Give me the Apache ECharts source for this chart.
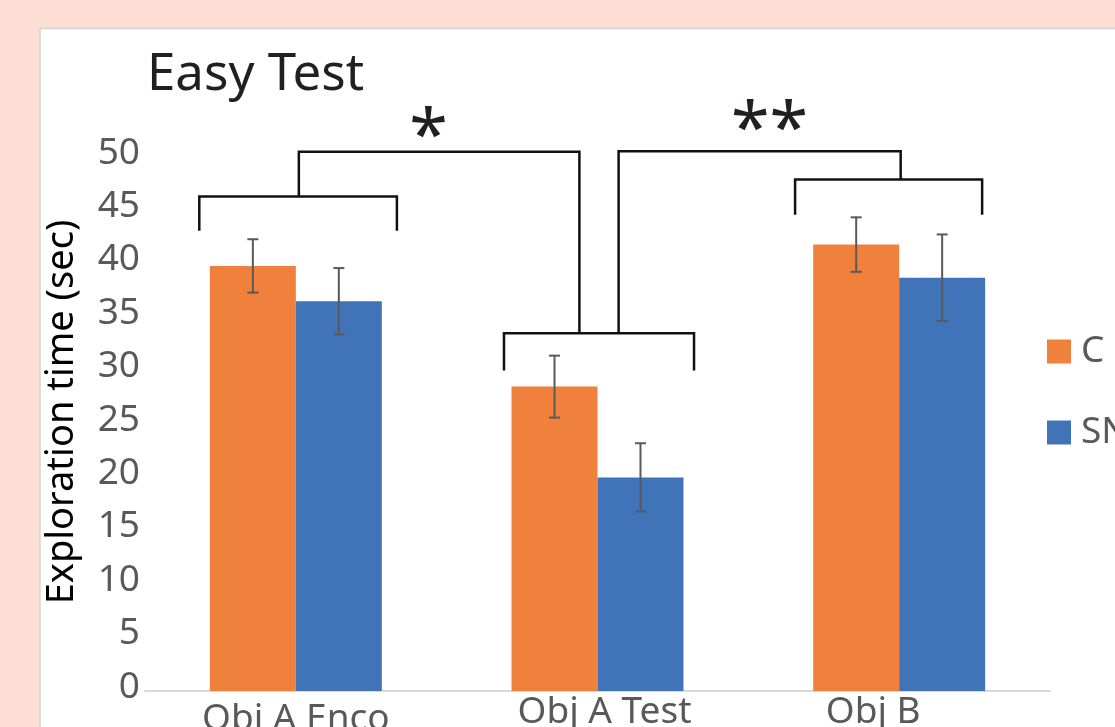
<!DOCTYPE html>
<html>
<head>
<meta charset="utf-8">
<title>Easy Test</title>
<script src="https://cdn.jsdelivr.net/npm/echarts@6/dist/echarts.min.js"></script>
<style>
  html, body { margin: 0; padding: 0; background: #fcded5; }
  #chart { width: 1115px; height: 727px; }
</style>
</head>
<body>
<div id="chart"></div>
<script>
const categories = ['Obj A Enco', 'Obj A Test', 'Obj B'];
const groupNames = ['C', 'SN'];
const meanC = [39.8, 28.5, 41.8];
const meanSN = [36.5, 20.0, 38.7];
const errC = [2.5, 2.9, 2.55];
const errSN = [3.1, 3.2, 4.05];
const yMin = 0;
const yMax = 50;
const yStep = 5;

// significance brackets, polylines in [category position, seconds]
const brackets = [
  [[-0.32, 43.1], [-0.32, 46.3], [0.335, 46.3], [0.335, 43.1]],
  [[0.01, 46.3], [0.01, 50.5], [0.94, 50.5], [0.94, 33.5]],
  [[0.69, 30.0], [0.69, 33.5], [1.32, 33.5], [1.32, 30.0]],
  [[1.07, 33.5], [1.07, 50.55], [2.005, 50.55], [2.005, 47.9]],
  [[1.655, 44.6], [1.655, 47.9], [2.275, 47.9], [2.275, 44.6]]
];
const starPos = [[0.44, 51.7], [1.57, 52.3]];
const starText = ['*', '**'];

const FONT = 'Noto Sans';
const GREY = '#595959';
const barGapPct = 43;

const chart = echarts.init(document.getElementById('chart'));

function errorBars(sign) {
  return function (params, api) {
    const band = api.size([1, 0])[0];
    const barW = band * (1 - barGapPct / 100) / 2;
    const x = api.coord([api.value(0), 0])[0] + sign * barW / 2;
    const hi = api.coord([api.value(0), api.value(1) + api.value(2)])[1];
    const lo = api.coord([api.value(0), api.value(1) - api.value(2)])[1];
    const cap = 5.5;
    const st = { stroke: GREY, lineWidth: 2 };
    return {
      type: 'group',
      children: [
        { type: 'line', shape: { x1: x, y1: hi, x2: x, y2: lo }, style: st },
        { type: 'line', shape: { x1: x - cap, y1: hi, x2: x + cap, y2: hi }, style: st },
        { type: 'line', shape: { x1: x - cap, y1: lo, x2: x + cap, y2: lo }, style: st }
      ]
    };
  };
}

// small per-label nudges so the category names sit where the original has them
const labelPad = [[7, 0, 0, 0], [0, 0, 0, 14], [0, 52, 0, 0]];

const option = {
  backgroundColor: '#fcded5',
  textStyle: { fontFamily: FONT },
  graphic: [{
    type: 'rect',
    z: -10,
    shape: { x: 40, y: 28.5, width: 1200, height: 800 },
    style: { fill: '#ffffff', stroke: '#d3d3d3', lineWidth: 1.5 }
  }],
  title: {
    text: 'Easy Test',
    left: 142,
    top: 45,
    textStyle: { fontFamily: FONT, fontSize: 51, fontWeight: 'normal', color: '#231f20' }
  },
  legend: {
    orient: 'vertical',
    left: 1042,
    top: 328,
    itemWidth: 24,
    itemHeight: 24,
    itemGap: 44,
    icon: 'rect',
    textStyle: { fontFamily: FONT, fontSize: 37, lineHeight: 37, color: GREY, padding: [0, 0, 0, 5] },
    data: groupNames
  },
  grid: { left: 145, right: 65, top: 157, bottom: 36, outerBoundsMode: 'none' },
  xAxis: [{
    type: 'category',
    data: categories.map((c, i) => ({ value: c, textStyle: { padding: labelPad[i] } })),
    axisLine: { lineStyle: { color: '#d9d9d9', width: 2 } },
    axisTick: { show: false },
    axisLabel: { margin: 3, fontFamily: FONT, fontSize: 37, color: GREY }
  }, {
    type: 'value',
    show: false,
    min: -0.5,
    max: 2.5
  }],
  yAxis: {
    type: 'value',
    min: yMin,
    max: yMax,
    interval: yStep,
    name: 'Exploration time (sec)',
    nameLocation: 'middle',
    nameGap: 64,
    nameTextStyle: { fontFamily: FONT, fontSize: 38, color: '#000000', padding: [0, 0, 0, 24] },
    axisLine: { show: false },
    axisTick: { show: false },
    splitLine: { show: false },
    axisLabel: {
      margin: 5, fontFamily: FONT, fontSize: 37, color: GREY,
      verticalAlign: 'bottom', lineHeight: 8
    }
  },
  series: [
    {
      name: groupNames[0],
      type: 'bar',
      data: meanC,
      barGap: '0%',
      barCategoryGap: barGapPct + '%',
      itemStyle: { color: '#f0813c' }
    },
    {
      name: groupNames[1],
      type: 'bar',
      data: meanSN,
      itemStyle: { color: '#4173b9' }
    },
    {
      type: 'custom',
      z: 5,
      renderItem: errorBars(-1),
      data: meanC.map((m, i) => [i, m, errC[i]])
    },
    {
      type: 'custom',
      z: 5,
      renderItem: errorBars(1),
      data: meanSN.map((m, i) => [i, m, errSN[i]])
    },
    {
      type: 'custom',
      xAxisIndex: 1,
      z: 6,
      encode: { x: [0, 2, 4, 6], y: [1, 3, 5, 7] },
      data: brackets.map(b => b.flat()),
      renderItem: function (params, api) {
        const pts = [];
        for (let k = 0; k < 4; k++) {
          pts.push(api.coord([api.value(k * 2), api.value(k * 2 + 1)]));
        }
        return {
          type: 'polyline',
          shape: { points: pts },
          style: { stroke: '#111111', lineWidth: 2.5, fill: null }
        };
      }
    },
    {
      type: 'custom',
      xAxisIndex: 1,
      z: 6,
      data: starPos,
      renderItem: function (params, api) {
        const p = api.coord([api.value(0), api.value(1)]);
        return {
          type: 'text',
          x: p[0],
          y: p[1],
          style: {
            text: starText[params.dataIndex],
            fontFamily: FONT,
            fontSize: 70,
            fill: '#231f20',
            align: 'center',
            verticalAlign: 'middle'
          }
        };
      }
    }
  ]
};

chart.setOption(option);
</script>
</body>
</html>
